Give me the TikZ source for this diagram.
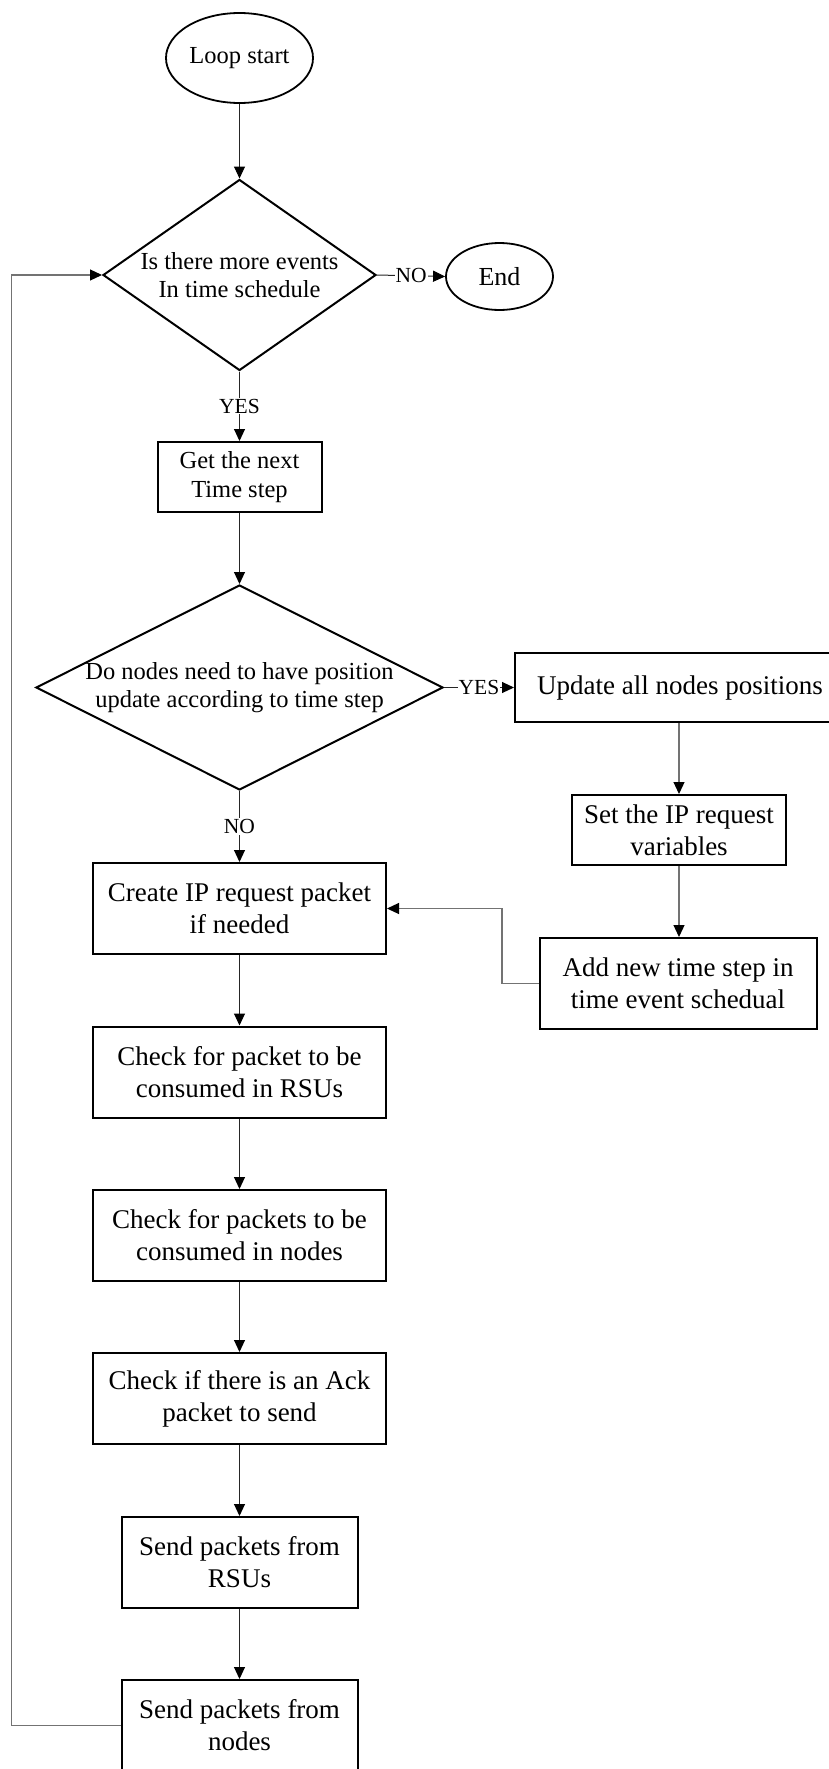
\documentclass[tikz,border=0pt]{standalone}
\usepackage{fontspec}
\setmainfont{Liberation Serif}
\usetikzlibrary{shapes.geometric,arrows.meta}
\begin{document}
\begin{tikzpicture}[x=1pt,y=-1pt,
  box/.style={draw,line width=2pt,rectangle,inner sep=0pt,align=center,font=\fontsize{27}{32}\selectfont},
  dia/.style={draw,line width=2pt,diamond,inner sep=0pt},
  oval/.style={draw,line width=1.8pt,ellipse,inner sep=0pt},
  lab/.style={fill=white,inner sep=1pt,font=\fontsize{21.5}{24}\selectfont},
  dtext/.style={align=center,font=\fontsize{24.5}{28}\selectfont},
  conn/.style={line width=1pt,draw=black!85,-{Triangle[length=12pt,width=11pt,color=black]}},
  gconn/.style={line width=1.2pt,draw=black!55,-{Triangle[length=12pt,width=11pt,color=black]}}
]
\useasboundingbox (0,0) rectangle (829,1769);
\clip (0,0) rectangle (829,1769);

\node[oval,minimum width=147pt,minimum height=90pt,font=\fontsize{24.5}{28}\selectfont] (start) at (239.5,58) {Loop start};
\node[dia,minimum width=273pt,minimum height=191pt] (d1) at (239.5,275) {};
\node[dtext] (d1t) at (239.5,275) {Is there more events\\In time schedule};
\node[oval,minimum width=107pt,minimum height=67pt,font=\fontsize{26}{30}\selectfont] (end) at (499.5,276.5) {End};
\node[box,minimum width=164pt,minimum height=70pt,font=\fontsize{24.5}{29}\selectfont] (get) at (239.5,477) {Get the next\\Time step};
\node[dia,minimum width=407pt,minimum height=205pt] (d2) at (239.5,687.5) {};
\node[dtext] (d2t) at (239.5,687.5) {Do nodes need to have position\\update according to time step};
\node[box,minimum width=330pt,minimum height=69pt,anchor=west] (upd) at (514,687.5) {Update all nodes positions};
\node[box,minimum width=214pt,minimum height=70pt] (setip) at (679,830) {Set the IP request\\variables};
\node[box,minimum width=277pt,minimum height=91pt] (add) at (678,983.5) {Add new time step in\\time event schedual};
\node[box,minimum width=293pt,minimum height=91pt] (create) at (239.5,908.5) {Create IP request packet\\if needed};
\node[box,minimum width=293pt,minimum height=91pt] (rsu) at (239.5,1072) {Check for packet to be\\consumed in RSUs};
\node[box,minimum width=293pt,minimum height=91pt] (cnodes) at (239.5,1235.5) {Check for packets to be\\consumed in nodes};
\node[box,minimum width=293pt,minimum height=91pt] (ack) at (239.5,1398.5) {Check if there is an Ack\\packet to send};
\node[box,minimum width=236pt,minimum height=91pt] (srsu) at (239.5,1562.5) {Send packets from\\RSUs};
\node[box,minimum width=236pt,minimum height=91pt] (snodes) at (239.5,1725.5) {Send packets from\\nodes};

\coordinate (fbx) at (502,0);
\coordinate (lx) at (11.7,0);

\draw[conn] (start.south) -- (d1.north);
\draw[conn] (d1.east) -- node[lab]{NO} (end.west);
\draw[conn] (d1.south) -- node[lab]{YES} (get.north);
\draw[conn] (get.south) -- (d2.north);
\draw[conn] (d2.east) -- node[lab]{YES} (upd.west);
\draw[conn] (d2.south) -- node[lab]{NO} (create.north);
\draw[gconn] (upd.south -| setip.north) -- (setip.north);
\draw[gconn] (setip.south) -- (add.north -| setip.south);
\draw[gconn] (add.west) -- (add.west -| fbx) |- (create.east);
\draw[conn] (create.south) -- (rsu.north);
\draw[conn] (rsu.south) -- (cnodes.north);
\draw[conn] (cnodes.south) -- (ack.north);
\draw[conn] (ack.south) -- (srsu.north);
\draw[conn] (srsu.south) -- (snodes.north);
\draw[gconn] (snodes.west) -- (snodes.west -| lx) |- (d1.west);
\end{tikzpicture}
\end{document}
